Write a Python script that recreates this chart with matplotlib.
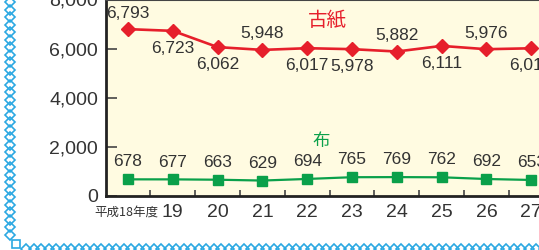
import numpy as np
import matplotlib
matplotlib.use("Agg")
import matplotlib.pyplot as plt
from matplotlib.lines import Line2D

plt.rcParams['font.family'] = ['Liberation Sans', 'Noto Sans CJK JP']

years = ['平成18年度', '19', '20', '21', '22', '23', '24', '25', '26', '27']
paper = [6793, 6723, 6062, 5948, 6017, 5978, 5882, 6111, 5976, 6014]
cloth = [678, 677, 663, 629, 694, 765, 769, 762, 692, 653]
# label above (+1) or below (-1) for the paper series
paper_side = [1, -1, -1, 1, -1, -1, 1, -1, 1, -1]

red = '#E61F2B'
green = '#0AA04A'
txt = '#333333'
blue = '#2BA8E2'

W, H = 539, 250
fig = plt.figure(figsize=(W / 100, H / 100), dpi=100)

step = 44.8
x0 = 128
left_px = x0 - 0.5 * step
ax = fig.add_axes([left_px / W, 54 / H, 10.6 * step / W, 196.5 / H])
ax.set_facecolor('#FFFBE1')

x = np.arange(len(years))
ax.plot(x, paper, color=red, lw=1.9, marker='D', ms=7.5, mec=red, mfc=red, zorder=3)
ax.plot(x, cloth, color=green, lw=1.6, marker='s', ms=7, mec=green, mfc=green, zorder=3)

for i, v in enumerate(paper):
    off = 11.5 if paper_side[i] > 0 else -12.5
    ax.annotate(f'{v:,}', (i, v), xytext=(0, off), textcoords='offset points',
                ha='center', va='center', fontsize=12.5, color=txt)
for i, v in enumerate(cloth):
    ax.annotate(f'{v:,}', (i, v), xytext=(0, 12.5), textcoords='offset points',
                ha='center', va='center', fontsize=12.5, color=txt)

ax.text(4.44, 7150, '古紙', color=red, fontsize=14, ha='center', va='center',
        family='Noto Sans CJK JP')
ax.text(4.31, 2250, '布', color=green, fontsize=12.5, ha='center', va='center',
        family='Noto Sans CJK JP')

ax.set_xlim(-0.5, 10.1)
ax.set_ylim(0, 8000)
ax.set_yticks([0, 2000, 4000, 6000, 8000])
ax.set_yticklabels([f'{t:,}' for t in [0, 2000, 4000, 6000, 8000]])
ax.tick_params(axis='y', direction='in', length=8, width=1.2, color='#444444',
               labelsize=14, labelcolor=txt, pad=5.5)

ax.set_xticks(x)
ax.set_xticklabels([''] + years[1:])
ax.set_xticks(x[:-1] + 0.5, minor=True)
ax.tick_params(axis='x', which='major', length=0, labelsize=14, labelcolor=txt, pad=6)
ax.tick_params(axis='x', which='minor', direction='in', length=4, width=1.2, color='#444444')

# first category label, smaller CJK text
ax.annotate(years[0], (0, 0), xytext=(-1, -11.5), textcoords='offset points',
            ha='center', va='center', fontsize=9, color=txt,
            family='Noto Sans CJK JP', annotation_clip=False)

for s in ['left', 'bottom']:
    ax.spines[s].set_linewidth(2)
    ax.spines[s].set_color('#222222')
ax.spines['top'].set_linewidth(1.5)
ax.spines['top'].set_color('#444444')
ax.spines['right'].set_visible(False)

# blue diamond border
ly = np.arange(H - 2, 14, -7.5)
fig.add_artist(Line2D(np.full(len(ly), 10) / W, ly / H, ls='none', marker='D', ms=5,
                      mfc='none', mec=blue, mew=1.2, transform=fig.transFigure))
bx = np.arange(26, W + 5, 7.5)
fig.add_artist(Line2D(bx / W, np.full(len(bx), 1.0) / H, ls='none', marker='D', ms=5,
                      mfc='none', mec=blue, mew=1.2, transform=fig.transFigure))
fig.add_artist(Line2D([16 / W], [6 / H], ls='none', marker='s', ms=5.5,
                      mfc='white', mec=blue, mew=1.2, transform=fig.transFigure))

fig.savefig('out.png', dpi=100)
